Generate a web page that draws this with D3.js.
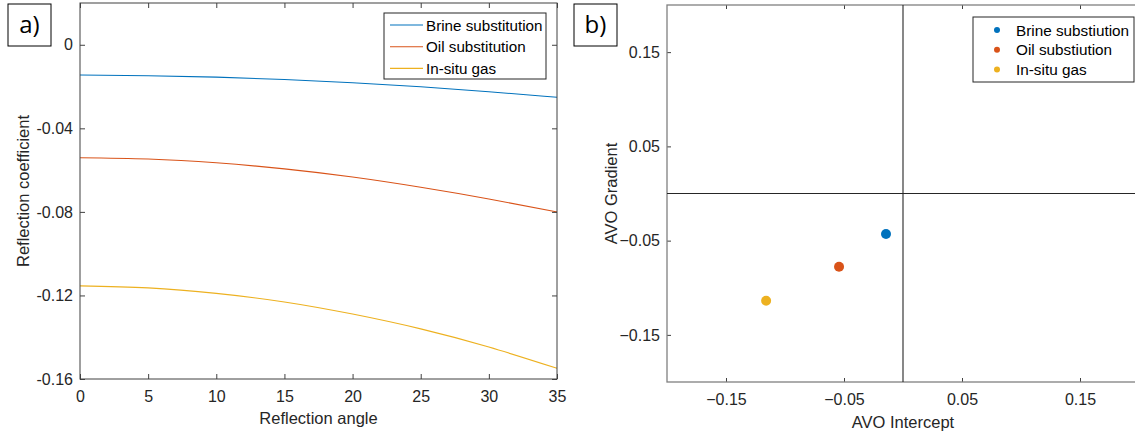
<!DOCTYPE html>
<html>
<head>
<meta charset="utf-8">
<script src="https://cdn.jsdelivr.net/npm/d3@7"></script>
<style>
    body { margin: 0; background: #fff; overflow: hidden; }
    svg { display: block; font-family: 'Liberation Sans', Arial, sans-serif; }
    .tick text { fill: #262626; font-size: 16px; }
    .tick line { stroke: #404040; }
</style>
</head>
<body>
<script>
// panel a: reflection coefficient vs angle
const angles = [0, 5, 10, 15, 20, 25, 30, 35];
const brine = [-0.0145, -0.0148, -0.0155, -0.0166, -0.0182, -0.0201, -0.0225, -0.0251];
const oil = [-0.0541, -0.0547, -0.0565, -0.0594, -0.0633, -0.0682, -0.0738, -0.0800];
const gas = [-0.1154, -0.1164, -0.1190, -0.1231, -0.1289, -0.1360, -0.1447, -0.1549];
const lineNames = ['Brine substitution', 'Oil substitution', 'In-situ gas'];

// panel b: AVO crossplot
const pointNames = ['Brine substiution', 'Oil substiution', 'In-situ gas'];
const intercepts = [-0.0144, -0.0542, -0.1160];
const gradients = [-0.0430, -0.0777, -0.1138];

const angleTicks = [0, 5, 10, 15, 20, 25, 30, 35];
const coefTicks = [0, -0.04, -0.08, -0.12, -0.16];
const avoTicks = [-0.15, -0.05, 0.05, 0.15];

const colors = ['#0072BD', '#D95319', '#EDB120'];

const width = 1135;
const height = 435;

const svg = d3.select('body')
    .append('svg')
    .attr('width', width)
    .attr('height', height);

const fmt = d => d === 0 ? '0' : d.toFixed(2);

const panelLabel = (text, x, y) => {
    const g = svg.append('g').attr('transform', `translate(${x},${y})`);
    g.append('rect')
        .attr('width', 43)
        .attr('height', 42)
        .attr('fill', '#fff')
        .attr('stroke', '#000')
        .attr('stroke-width', 1);
    g.append('text')
        .attr('x', 21.5)
        .attr('y', 29)
        .attr('text-anchor', 'middle')
        .attr('font-family', "'Open Sans', sans-serif")
        .attr('font-size', 24)
        .attr('fill', '#000')
        .text(text);
};

// ---------- panel a ----------
const a = { left: 80, right: 557, top: 3, bottom: 379 };

const xA = d3.scaleLinear().domain([0, 35]).range([a.left, a.right]);
const yA = d3.scaleLinear().domain([-0.16, 0.02]).range([a.bottom, a.top]);

const gA = svg.append('g');

const lineA = d3.line()
    .x(d => xA(d[0]))
    .y(d => yA(d[1]))
    .curve(d3.curveNatural);

[brine, oil, gas].forEach((s, i) => {
    gA.append('path')
        .datum(angles.map((v, j) => [v, s[j]]))
        .attr('d', lineA)
        .attr('fill', 'none')
        .attr('stroke', colors[i])
        .attr('stroke-width', 1.1);
});

gA.append('g')
    .attr('transform', `translate(0,${a.bottom})`)
    .call(d3.axisBottom(xA).tickValues(angleTicks).tickSizeInner(-5).tickSizeOuter(0).tickPadding(12))
    .call(g => g.select('.domain').remove());

gA.append('g')
    .attr('transform', `translate(0,${a.top})`)
    .call(d3.axisTop(xA).tickValues(angleTicks).tickFormat('').tickSizeInner(-5).tickSizeOuter(0))
    .call(g => g.select('.domain').remove());

gA.append('g')
    .attr('transform', `translate(${a.left},0)`)
    .call(d3.axisLeft(yA).tickValues(coefTicks).tickFormat(fmt).tickSizeInner(-5).tickSizeOuter(0).tickPadding(7))
    .call(g => g.select('.domain').remove());

gA.append('g')
    .attr('transform', `translate(${a.right},0)`)
    .call(d3.axisRight(yA).tickValues(coefTicks).tickFormat('').tickSizeInner(-5).tickSizeOuter(0))
    .call(g => g.select('.domain').remove());

gA.append('rect')
    .attr('x', a.left)
    .attr('y', a.top)
    .attr('width', a.right - a.left)
    .attr('height', a.bottom - a.top)
    .attr('fill', 'none')
    .attr('stroke', '#404040')
    .attr('stroke-width', 1);

gA.append('text')
    .attr('x', (a.left + a.right) / 2)
    .attr('y', 424)
    .attr('text-anchor', 'middle')
    .attr('font-size', 16.5)
    .attr('fill', '#262626')
    .text('Reflection angle');

gA.append('text')
    .attr('transform', `translate(29,${(a.top + a.bottom) / 2}) rotate(-90)`)
    .attr('text-anchor', 'middle')
    .attr('font-size', 16.5)
    .attr('fill', '#262626')
    .text('Reflection coefficient');

const legA = gA.append('g').attr('transform', 'translate(384,13)');
legA.append('rect')
    .attr('width', 162)
    .attr('height', 66)
    .attr('fill', '#fff')
    .attr('stroke', '#262626')
    .attr('stroke-width', 1);
lineNames.forEach((n, i) => {
    const yy = 12 + i * 21.7;
    legA.append('line')
        .attr('x1', 6).attr('x2', 39)
        .attr('y1', yy).attr('y2', yy)
        .attr('stroke', colors[i])
        .attr('stroke-width', 1.1);
    legA.append('text')
        .attr('x', 42)
        .attr('y', yy + 5.5)
        .attr('font-size', 15.2)
        .attr('fill', '#000')
        .text(n);
});

panelLabel('a)', 8, 4);

// ---------- panel b ----------
// the right edge of this box falls just outside the 1135px canvas
const b = { left: 667, right: 1139, top: 5, bottom: 382 };

const xB = d3.scaleLinear().domain([-0.2, 0.2]).range([b.left, b.right]);
const yB = d3.scaleLinear().domain([-0.2, 0.2]).range([b.bottom, b.top]);

const gB = svg.append('g');

gB.append('g')
    .attr('transform', `translate(0,${b.bottom})`)
    .call(d3.axisBottom(xB).tickValues(avoTicks).tickFormat(d3.format('.2f')).tickSizeInner(-4).tickSizeOuter(0).tickPadding(12))
    .call(g => g.select('.domain').remove());

gB.append('g')
    .attr('transform', `translate(0,${b.top})`)
    .call(d3.axisTop(xB).tickValues(avoTicks).tickFormat('').tickSizeInner(-4).tickSizeOuter(0))
    .call(g => g.select('.domain').remove());

gB.append('g')
    .attr('transform', `translate(${b.left},0)`)
    .call(d3.axisLeft(yB).tickValues(avoTicks).tickFormat(d3.format('.2f')).tickSizeInner(-4).tickSizeOuter(0).tickPadding(7))
    .call(g => g.select('.domain').remove());

gB.append('g')
    .attr('transform', `translate(${b.right},0)`)
    .call(d3.axisRight(yB).tickValues(avoTicks).tickFormat('').tickSizeInner(-4).tickSizeOuter(0))
    .call(g => g.select('.domain').remove());

gB.selectAll('.tick line').attr('stroke', '#777');

gB.append('rect')
    .attr('x', b.left)
    .attr('y', b.top)
    .attr('width', b.right - b.left)
    .attr('height', b.bottom - b.top)
    .attr('fill', 'none')
    .attr('stroke', '#808080')
    .attr('stroke-width', 1.3);

gB.append('line')
    .attr('x1', xB(0)).attr('x2', xB(0))
    .attr('y1', b.top).attr('y2', b.bottom)
    .attr('stroke', '#262626')
    .attr('stroke-width', 1.1);

gB.append('line')
    .attr('x1', b.left).attr('x2', b.right)
    .attr('y1', yB(0)).attr('y2', yB(0))
    .attr('stroke', '#262626')
    .attr('stroke-width', 1.1);

gB.selectAll('circle.pt')
    .data(intercepts)
    .join('circle')
    .attr('class', 'pt')
    .attr('cx', d => xB(d))
    .attr('cy', (d, i) => yB(gradients[i]))
    .attr('r', 5)
    .attr('fill', (d, i) => colors[i]);

gB.append('text')
    .attr('x', xB(0))
    .attr('y', 428)
    .attr('text-anchor', 'middle')
    .attr('font-size', 16.5)
    .attr('fill', '#262626')
    .text('AVO Intercept');

gB.append('text')
    .attr('transform', `translate(617,${(b.top + b.bottom) / 2}) rotate(-90)`)
    .attr('text-anchor', 'middle')
    .attr('font-size', 16.5)
    .attr('fill', '#262626')
    .text('AVO Gradient');

const legB = gB.append('g').attr('transform', 'translate(973,17)');
legB.append('rect')
    .attr('width', 161)
    .attr('height', 65)
    .attr('fill', '#fff')
    .attr('stroke', '#262626')
    .attr('stroke-width', 1);
pointNames.forEach((n, i) => {
    const yy = 13 + i * 19.7;
    legB.append('circle')
        .attr('cx', 24)
        .attr('cy', yy)
        .attr('r', 3)
        .attr('fill', colors[i]);
    legB.append('text')
        .attr('x', 43)
        .attr('y', yy + 5.5)
        .attr('font-size', 15.3)
        .attr('fill', '#000')
        .text(n);
});

panelLabel('b)', 574, 4);
</script>
</body>
</html>
